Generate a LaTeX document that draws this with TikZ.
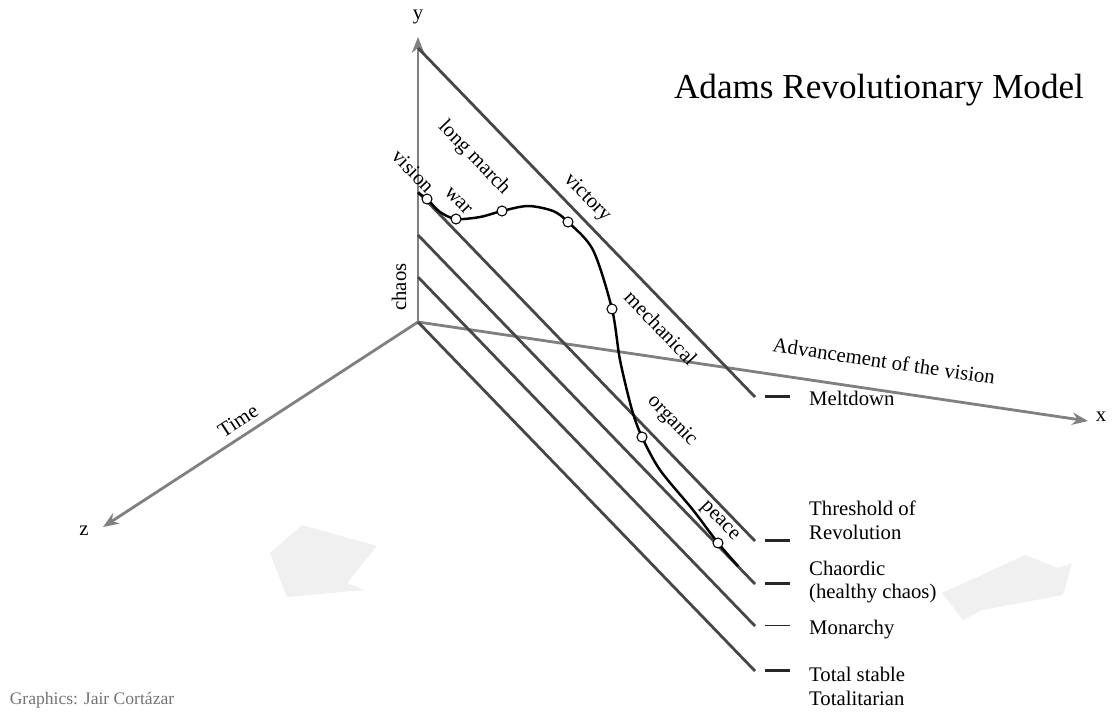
\documentclass[tikz,border=0pt]{standalone}
\usepackage{fontspec}
\setmainfont{Liberation Serif}
\usepackage{tikz}
\usetikzlibrary{arrows.meta}

\begin{document}
\begin{tikzpicture}[>={Stealth[length=9pt,width=7pt]}, x=0.02cm, y=-0.02cm,
  axis/.style={draw=black!50, line width=1.6pt},
  level/.style={draw=black!72, line width=1.6pt},
  tickline/.style={draw=black!85, line width=1.6pt},
  lbl/.style={font=\fontsize{11.8}{13.6}\selectfont},
  onpath/.style={lbl, rotate=-46},
  dot/.style={circle, draw, fill=white, inner sep=0pt, minimum size=5.7pt, line width=0.6pt}]
  \useasboundingbox (0,0) rectangle (1114,717);
  % title and credit
  \node[font=\fontsize{20}{24}\selectfont] (title) at (879,90) {Adams Revolutionary Model};
  \node[font=\fontsize{10}{12}\selectfont, text=black!55] (credit) at (92,700) {Graphics: Jair Cortázar};
  % big shaded arrows
  \fill[black!6] (270,553) -- (302,525) -- (377,546) -- (347,583) -- (364,590) -- (287,597) -- cycle;
  \fill[black!6] (942,593) -- (1025,555) -- (1058,568) -- (1072,563) -- (1063,595) -- (982,610) -- (963,620) -- cycle;
  % axes
  \coordinate (o) at (418,322);
  \coordinate (xend) at (1088,421);
  \coordinate (yend) at (418,37);
  \coordinate (zend) at (103,527);
  \draw[axis, ->] (o) -- (xend);
  \draw[axis, ->] (o) -- (yend);
  \draw[axis, ->] (o) -- (zend);
  \node[lbl] (xlab) at (1101,417) {x};
  \node[lbl] (ylab) at (418,17) {y};
  \node[lbl] (zlab) at (84,531) {z};
  \node[lbl, rotate=33] (time) at (238,421) {Time};
  \node[lbl, rotate=-8.4] (adv) at (884,361) {Advancement of the vision};
  \node[lbl, rotate=90] (chaos) at (399,287) {chaos};
  % levels
  \foreach \n/\yy/\w in {melt/48/1.6, thr/192/1.6, cha/235/1.6, mon/277/1.0, tot/322/1.6} {
    \draw[level] (418,\yy) -- ++(337,349) coordinate (\n-end);
    \draw[tickline, line width=\w pt] ([xshift=0.2cm,yshift=0.01cm]\n-end) -- ++(25,0);
  }
  \node[lbl, anchor=west] (meltdown) at (803,398) {Meltdown};
  \node[lbl, anchor=west, align=left] (threshold) at (803,520) {Threshold of\\Revolution};
  \node[lbl, anchor=west, align=left] (chaordic) at (803,582) {Chaordic\\(healthy chaos)};
  \node[lbl, anchor=west] (monarchy) at (803,630) {Monarchy};
  \node[lbl, anchor=west, align=left] (total) at (803,686) {Total stable\\Totalitarian};
  % the path of the revolution
  \coordinate (p0) at (418,193);
  \coordinate (vis) at (427,199);
  \coordinate (war) at (456,219);
  \coordinate (lm) at (502,211);
  \coordinate (vic) at (568,222);
  \coordinate (mech) at (612,309);
  \coordinate (org) at (642,437);
  \coordinate (pea) at (718,543);
  \coordinate (p1) at (738,566);
  \draw[line width=1.4pt] plot[smooth, tension=0.5] coordinates {(p0) (vis) (440,212) (war) (480,217) (lm)
    (528,206) (553,211) (vic) (593,250) (mech) (620,360) (632,410) (org) (660,470) (693,510) (pea) (p1)};
  \foreach \c in {vis, war, lm, vic, mech, org, pea}
    \node[dot] (\c-o) at (\c) {};
  \node[onpath] (vision) at (413,171) {vision};
  \node[onpath] (warlab) at (458,201) {war};
  \node[onpath] (march) at (474,158) {long march};
  \node[onpath] (victory) at (587,198) {victory};
  \node[onpath] (mechanical) at (661,328) {mechanical};
  \node[onpath] (organic) at (672,421) {organic};
  \node[onpath] (peace) at (719,522) {peace};
\end{tikzpicture}
\end{document}
